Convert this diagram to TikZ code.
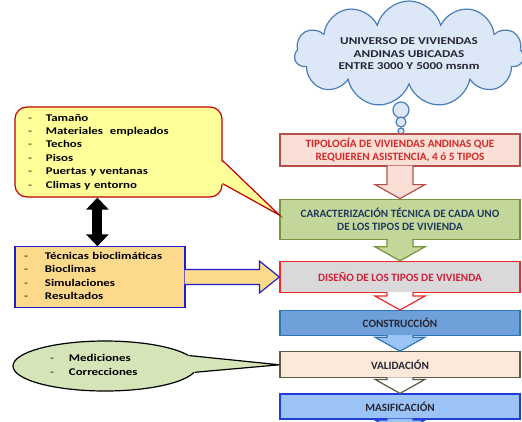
\documentclass[tikz,border=0pt]{standalone}
\usepackage{fontspec}
\setmainfont{Carlito}
\newfontfamily\nubefont{Carlito}[FakeStretch=1.25]
\usetikzlibrary{positioning,calc,shapes.geometric,shapes.symbols,arrows.meta}

\definecolor{nubeFill}{HTML}{DCE8F7}
\definecolor{nubeLine}{HTML}{4A7EBB}
\definecolor{tipoFill}{HTML}{FADFD6}
\definecolor{tipoLine}{HTML}{B4504A}
\definecolor{tipoText}{HTML}{D42A2A}
\definecolor{carFill}{HTML}{C4D79B}
\definecolor{carLine}{HTML}{77933C}
\definecolor{carText}{HTML}{1F3A5F}
\definecolor{disFill}{HTML}{D9D9D9}
\definecolor{disLine}{HTML}{F02828}
\definecolor{disText}{HTML}{D0203C}
\definecolor{conFill}{HTML}{6FA0DA}
\definecolor{conLine}{HTML}{2E75B6}
\definecolor{valFill}{HTML}{FDE9D9}
\definecolor{valLine}{HTML}{5A5A46}
\definecolor{masFill}{HTML}{9CC3F5}
\definecolor{masLine}{HTML}{1F3FD8}
\definecolor{oscuro}{HTML}{262633}
\definecolor{amaFill}{HTML}{FFFF99}
\definecolor{amaLine}{HTML}{C00000}
\definecolor{naraFill}{HTML}{FDD98C}
\definecolor{naraLine}{HTML}{1C1CD0}
\definecolor{verdeFill}{HTML}{D5E5B8}

% block arrow pointing down, from the bottom of #1 to the top of #2
\newcommand{\flecha}[4]{%
  \draw[draw=#3, fill=#4, line width=1.2pt]
    ($(#1.south)+(-13,-1)$) -- ($(#2.north)+(-13,-14)$) -- ($(#2.north)+(-25,-14)$)
    -- (#2.north) -- ($(#2.north)+(25,-14)$) -- ($(#2.north)+(13,-14)$)
    -- ($(#1.south)+(13,-1)$);
}

\begin{document}
\begin{tikzpicture}[x=1pt,y=-1pt,
  caja/.style={draw, line width=1.2pt, minimum width=240pt, inner sep=2pt, align=center,
    font=\bfseries\fontsize{11.2}{13}\selectfont},
  lista/.style={draw, line width=1.2pt, align=left,
    font=\nubefont\bfseries\fontsize{10.3}{13.4}\selectfont},
  burbuja/.style={circle, draw=nubeLine, fill=nubeFill, line width=1.2pt, inner sep=0pt}]
  \useasboundingbox (0,0) rectangle (522,421);

  % cloud
  \node[cloud, cloud puffs=11, cloud ignores aspect, draw=nubeLine, fill=nubeFill,
        line width=1.2pt, minimum width=229pt, minimum height=106pt, align=center,
        text=oscuro, font=\nubefont\bfseries\fontsize{10.5}{12.5}\selectfont]
        (nube) at (409,54) {UNIVERSO DE VIVIENDAS\\ANDINAS UBICADAS\\ENTRE 3000 Y 5000 msnm};
  \node[burbuja, minimum size=16pt] (b1) at (401,110) {};
  \node[burbuja, minimum size=10pt] (b2) at (401,122) {};
  \node[burbuja, minimum size=6pt]  (b3) at (401,131) {};

  % main column
  \node[caja, draw=tipoLine, fill=tipoFill, text=tipoText, minimum height=32pt]
        (tipo) at (400,150) {TIPOLOGÍA DE VIVIENDAS ANDINAS QUE\\REQUIEREN ASISTENCIA, 4 ó 5 TIPOS};
  \node[caja, draw=carLine, fill=carFill, text=carText, minimum height=40pt]
        (car) [below=32pt of tipo] {CARACTERIZACIÓN TÉCNICA DE CADA UNO\\DE LOS TIPOS DE VIVIENDA};
  \node[caja, draw=disLine, fill=disFill, text=disText, minimum height=31pt]
        (dis) [below=21pt of car] {DISEÑO DE LOS TIPOS DE VIVIENDA};
  \node[caja, draw=conLine, fill=conFill, text=oscuro, minimum height=25pt]
        (con) [below=17pt of dis] {CONSTRUCCIÓN};
  \node[caja, draw=valLine, fill=valFill, text=oscuro, minimum height=26pt]
        (val) [below=15pt of con] {VALIDACIÓN};
  \node[caja, draw=masLine, fill=masFill, text=oscuro, minimum height=25pt]
        (mas) [below=15pt of val] {MASIFICACIÓN};
  \coordinate (fin) at (400,434);

  \flecha{tipo}{car}{tipoLine}{tipoFill}
  \flecha{car}{dis}{carLine}{carFill}
  \flecha{dis}{con}{disLine}{white}
  \flecha{con}{val}{conLine}{masFill}
  \flecha{val}{mas}{valLine}{white}
  \flecha{mas}{fin}{masLine}{masFill}

  % left side
  \node[lista, draw=amaLine, fill=amaFill, rounded corners=12pt, minimum width=207pt,
        minimum height=90pt, inner xsep=13pt, text width=181pt]
        (carac) at (118.5,152) {%
    \begin{tabular}{@{}l@{\hspace{14pt}}l@{}}
      {\mdseries -} & Tamaño\\
      {\mdseries -} & Materiales\ \ empleados\\
      {\mdseries -} & Techos\\
      {\mdseries -} & Pisos\\
      {\mdseries -} & Puertas y ventanas\\
      {\mdseries -} & Climas y entorno
    \end{tabular}};
  \coordinate (punta) at ($(car.north west)!0.4!(car.south west)$);
  \fill[amaFill] ($(carac.south east)+(-2,-37)$) -- (punta) -- ($(carac.south east)+(-2,-14)$) -- cycle;
  \draw[amaLine, line width=1.2pt] ($(carac.south east)+(0,-37)$) -- (punta) -- ($(carac.south east)+(0,-14)$);

  \node[lista, draw=naraLine, fill=naraFill, minimum width=170pt, minimum height=60pt,
        inner xsep=9pt, text width=152pt]
        (bio) at (100,277) {%
    \begin{tabular}{@{}l@{\hspace{17pt}}l@{}}
      {\mdseries -} & Técnicas bioclimáticas\\
      {\mdseries -} & Bioclimas\\
      {\mdseries -} & Simulaciones\\
      {\mdseries -} & Resultados
    \end{tabular}};
  \coordinate (punta2) at (dis.west|-bio.east);
  \draw[draw=naraLine, fill=naraFill, line width=1.2pt]
    ($(bio.east)+(-1,-7.5)$) -- ($(punta2)+(-20,-7.5)$) -- ($(punta2)+(-20,-16)$) -- (punta2)
    -- ($(punta2)+(-20,16)$) -- ($(punta2)+(-20,7.5)$) -- ($(bio.east)+(-1,7.5)$);

  \draw[line width=10pt, {Triangle[width=22pt,length=12pt]}-{Triangle[width=22pt,length=12pt]}]
    ($(carac.south west)+(83,0)$) -- ($(bio.north west)+(83,0)$);

  \node[ellipse, draw, fill=verdeFill, line width=1.2pt, minimum width=184pt,
        minimum height=50pt, inner sep=0pt, text width=110pt, align=left,
        font=\nubefont\bfseries\fontsize{10.3}{13.4}\selectfont]
        (med) at (105,366) {%
    \begin{tabular}{@{}l@{\hspace{15pt}}l@{}}
      {\mdseries -} & Mediciones\\
      {\mdseries -} & Correcciones
    \end{tabular}};
  \fill[verdeFill] (med.center) -- (med.7) -- (val.west) -- (med.-4) -- cycle;
  \draw[line width=1.2pt] (med.7) -- (val.west) -- (med.-4);
\end{tikzpicture}
\end{document}
